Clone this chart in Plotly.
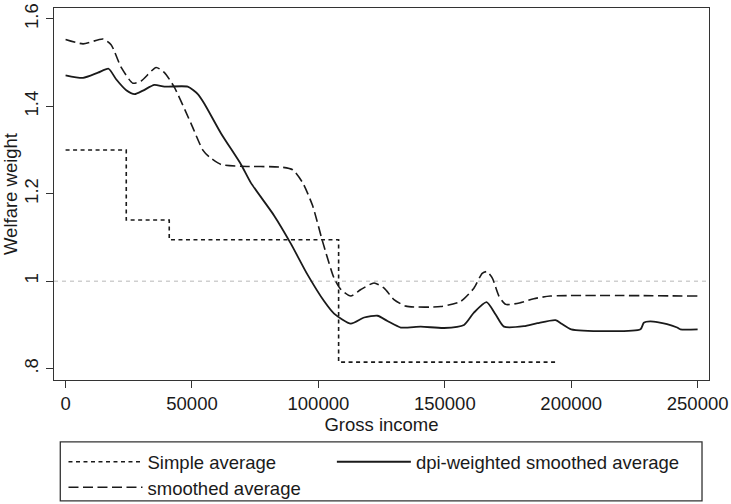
import plotly.graph_objects as go

# Simple average (step function)
simple_x = [0, 24000, 41000, 108000, 195000]
simple_y = [1.30, 1.14, 1.095, 0.815, 0.815]

# smoothed average (dashed)
smooth_x = [0, 6900, 14800, 18000, 22000, 26600, 29900, 35800, 39100, 43000,
            49600, 54300, 56900, 61500, 69400, 85200, 89800, 93800, 97700,
            101700, 106200, 108900, 112800, 116800, 122000, 126000, 129900,
            134600, 148400, 156300, 161500, 164800, 166600, 168800, 171400,
            174100, 180000, 185200, 191800, 250000]
smooth_y = [1.553, 1.543, 1.554, 1.541, 1.489, 1.453, 1.458, 1.489, 1.477, 1.444,
            1.361, 1.300, 1.284, 1.267, 1.263, 1.261, 1.255, 1.225, 1.173,
            1.090, 1.007, 0.981, 0.966, 0.981, 0.996, 0.984, 0.958,
            0.943, 0.942, 0.954, 0.984, 1.018, 1.022, 1.007, 0.966,
            0.947, 0.951, 0.960, 0.966, 0.966]

# dpi-weighted smoothed average (solid)
dpi_x = [0, 6900, 12800, 17000, 20000, 24000, 27300, 30600, 35100, 39100,
         48300, 52300, 54900, 61500, 69400, 73300, 82500, 89100, 95700,
         102300, 106200, 112800, 118100, 123400, 127300, 132600, 140500,
         149700, 157600, 161500, 166500, 170100, 173400, 181300, 186600,
         193800, 196400, 200000, 227400, 228700, 231300, 237900, 241900,
         243200, 250000]
dpi_y = [1.471, 1.465, 1.477, 1.486, 1.462, 1.437, 1.428, 1.436, 1.449, 1.445,
         1.445, 1.428, 1.406, 1.338, 1.267, 1.225, 1.150, 1.086, 1.015,
         0.954, 0.926, 0.903, 0.917, 0.921, 0.909, 0.894, 0.896,
         0.893, 0.900, 0.928, 0.952, 0.924, 0.896, 0.897, 0.904,
         0.911, 0.902, 0.890, 0.890, 0.905, 0.908, 0.902, 0.894,
         0.890, 0.890]

x_ticks = [0, 50000, 100000, 150000, 200000, 250000]
y_ticks = [0.8, 1.0, 1.2, 1.4, 1.6]
y_tick_text = [".8", "1", "1.2", "1.4", "1.6"]
ref_level = 1.0

FONT = "Liberation Sans, Arial, sans-serif"
INK = "#1a1a1a"
W, H = 731, 504

fig = go.Figure()

fig.add_trace(go.Scatter(x=simple_x, y=simple_y, mode="lines", name="Simple average",
                         legend="legend",
                         line=dict(color=INK, width=1.6, shape="hv", dash="4px,3.5px")))
fig.add_trace(go.Scatter(x=dpi_x, y=dpi_y, mode="lines", name="dpi-weighted smoothed average",
                         legend="legend2",
                         line=dict(color=INK, width=1.8, shape="spline", smoothing=0.6)))
fig.add_trace(go.Scatter(x=smooth_x, y=smooth_y, mode="lines", name="smoothed average",
                         legend="legend3",
                         line=dict(color=INK, width=1.6, shape="spline", smoothing=0.6, dash="10px,4.5px")))

legend_common = dict(orientation="v", xanchor="left", yanchor="top",
                     xref="paper", yref="container",
                     itemwidth=74, bgcolor="rgba(0,0,0,0)", borderwidth=0,
                     font=dict(family=FONT, size=18.5, color=INK),
                     tracegroupgap=0, itemclick=False)

PLOT_L, PLOT_W, PLOT_B, PLOT_H = 53, 656, 380, 377


def px_x(p):
    return (p - PLOT_L) / PLOT_W


def px_y(p):
    return (PLOT_B - p) / PLOT_H


def cont_y(p):
    return 1 - p / H


fig.update_layout(
    width=W, height=H,
    margin=dict(l=53, r=22, t=3, b=124),
    paper_bgcolor="white", plot_bgcolor="white",
    font=dict(family=FONT, size=18.5, color=INK),
    showlegend=True,
    legend=dict(x=px_x(62.5), y=cont_y(443.2), **legend_common),
    legend2=dict(x=px_x(331.3), y=cont_y(443.2), **legend_common),
    legend3=dict(x=px_x(62.5), y=cont_y(468.8), **legend_common),
)

# legend frame
fig.add_shape(type="rect", xref="paper", yref="paper",
              x0=px_x(59.3), x1=px_x(702),
              y0=px_y(442.7), y1=px_y(502.5),
              line=dict(color="#333333", width=1.3, dash="solid"),
              fillcolor="rgba(0,0,0,0)")
# reference line at 1
fig.add_hline(y=ref_level, line=dict(color="#cfcfcf", width=1.5, dash="4px,4px"), layer="below")

fig.update_xaxes(range=[-4581, 254500], tickvals=x_ticks, ticktext=[str(v) for v in x_ticks],
                 showgrid=False, zeroline=False, showline=True, linecolor="#333333", linewidth=1.3,
                 mirror=True, ticks="outside", ticklen=7, tickwidth=1.2, tickcolor="#333333",
                 ticklabeloverflow="allow",
                 title=dict(text="Gross income", standoff=4, font=dict(size=18.5)))
fig.update_yaxes(range=[0.774, 1.625], tickvals=y_ticks, ticktext=y_tick_text, tickangle=-90,
                 showgrid=False, zeroline=False, showline=True, linecolor="#333333", linewidth=1.3,
                 mirror=True, ticks="outside", ticklen=7, tickwidth=1.2, tickcolor="#333333",
                 ticklabeloverflow="allow",
                 title=dict(text="Welfare weight", standoff=6, font=dict(size=18.5)))

fig.write_html("out.html")
